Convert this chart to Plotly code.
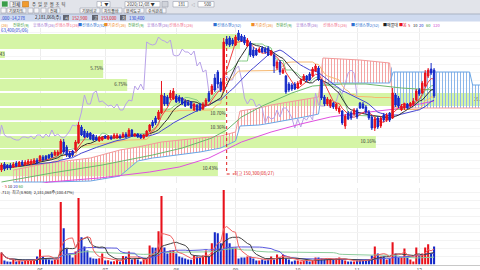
import numpy as np
import pandas as pd
import plotly.graph_objects as go

FONT = "Noto Sans CJK KR"

# ---- daily candles (thousand won) ----
opens = [30,36,35,35,33,37,34,38,35,36,
         36,37,40,39,43,44,45,46,45,45,
         47,58,53,47,49,50,57,73,69,67,
         67,65,63,59,60,64,61,63,62,62,
         64,63,66,64,70,64,66,65,62,64,
         69,78,82,81,87,104,103,102,101,104,
         103,102,99,98,98,90,95,96,91,95,
         107,106,122,128,118,110,161,162,160,155,
         167,164,163,154,157,150,150,148,152,151,
         152,145,145,132,138,127,124,116,115,116,
         112,116,120,124,126,124,129,132,120,103,
         96,94,97,91,88,89,74,87,87,86,
         90,97,96,93,88,83,72,82,74,85,
         80,87,82,105,102,90,92,96,94,96,
         100,110,107,114,124,131,130]
highs = [37,38,36,37,38,39,39,40,40,41,
         41,42,42,45,45,45,46,48,50,50,
         61,61,55,49,50,60,78,75,71,69,
         68,66,65,64,64,65,65,65,67,67,
         66,68,68,72,71,67,67,66,66,70,
         76,80,84,90,119,107,105,110,112,106,
         105,103,101,100,99,97,96,97,98,102,
         109,116,126,130,122,162,164,164,162,165,
         170,166,165,162,159,153,152,153,154,153,
         154,150,147,140,140,132,125,118,117,118,
         119,122,126,125,128,133,136,134,121,105,
         103,101,98,97,94,90,86,89,89,92,
         92,98,98,95,90,85,83,84,84,87,
         87,88,112,107,104,96,97,97,98,102,
         111,112,119,130,132,137,132]
lows = [28,29,30,30,32,33,33,34,34,35,
        35,36,36,38,39,40,41,42,44,44,
        46,46,43,42,43,49,56,64,62,62,
        60,59,59,58,59,61,60,60,61,61,
        61,62,62,63,63,63,62,61,61,63,
        68,72,75,80,86,94,94,100,100,97,
        97,95,93,94,91,89,88,89,90,94,
        98,105,108,112,108,108,154,153,154,154,
        159,158,155,153,143,142,144,147,147,146,
        144,144,127,130,125,126,106,108,109,110,
        111,115,119,118,119,123,128,119,100,94,
        94,92,91,89,86,75,71,80,80,84,
        81,91,91,86,80,70,69,71,72,78,
        78,78,81,93,92,89,90,91,93,94,
        99,104,106,113,122,125,102]
closes = [35,31,32,32,36,34,38,35,38,39,
          39,40,37,44,40,41,42,43,48,48,
          59,48,45,43,45,58,75,65,63,63,
          61,60,60,63,63,62,64,61,65,65,
          62,66,63,70,64,66,63,62,65,69,
          75,74,77,88,105,96,96,107,109,98,
          99,96,94,95,92,96,90,90,96,100,
          99,114,110,116,110,158,156,155,156,163,
          160,159,157,160,145,144,145,151,148,148,
          145,149,134,138,128,130,108,110,111,111,
          117,120,124,120,120,131,134,121,102,96,
          101,100,93,96,92,77,84,81,82,90,
          83,92,92,88,82,72,81,73,82,80,
          85,80,107,95,94,94,96,92,97,99,
          109,106,117,127,130,127,104]
# volume (10k shares)
volumes = [144,48,36,34,60,36,48,36,48,52,
           56,62,96,180,96,72,60,48,60,64,
           744,432,192,132,84,156,792,324,216,168,
           84,72,70,76,132,48,50,36,40,60,
           36,100,96,156,60,72,60,36,60,72,
           228,204,200,396,816,204,132,168,172,132,
           96,84,72,60,56,108,96,84,108,168,
           96,252,384,372,252,888,372,252,204,204,
           72,84,84,96,96,72,48,48,60,48,
           60,96,60,120,84,120,72,60,36,48,
           48,36,48,60,36,48,84,84,72,60,
           60,72,60,72,84,60,48,36,36,36,
           48,48,48,60,60,108,216,132,96,96,
           60,72,264,132,84,84,192,96,60,36,
           204,108,132,204,240,132,216]

month_labels = ["06", "07", "08", "09", "10", "11", "12"]
month_start = [13, 35, 59, 79, 100, 120, 141]

# long moving averages (they need history before the window)
ma60_idx = [0, 17, 34, 51, 61, 71, 76, 81, 88, 98, 105, 115, 123, 135, 146]
ma60_val = [18, 27, 35, 45, 52, 62, 70, 83, 94, 107, 114, 116, 116, 112, 110]
ma120_idx = [0, 16, 33, 50, 60, 70, 81, 91, 101, 111, 121, 133, 146]
ma120_val = [8, 18, 22, 28, 33, 42, 58, 68, 76, 83, 87, 91, 99]

# leading spans (already shifted forward)
cloud_idx = [4, 16, 30, 40, 46, 51, 54, 67, 74, 79, 80.5, 87, 91, 97, 101, 104, 107, 108.5,
             121, 131, 132.2, 148, 158, 159, 162]
span1_val = [30, 37, 42, 50, 53, 56, 58, 62, 64, 68, 89, 92, 95, 98, 100, 102, 103, 142,
             140, 137, 92, 92, 92, 92, 92]
span2_val = [18, 18, 19, 24, 39, 42, 43, 48, 52, 59, 74, 75, 77, 80, 82, 84, 86, 117,
             117, 117, 128, 128, 128, 115, 115]

# price-volume profile (매물대)
band_lo = [151, 142, 122, 109, 94, 80, 66, 52, 40, 24]
band_hi = [166, 149, 140, 121, 107, 92, 78, 64, 51, 38]
band_share = [50, 1.0, 21.5, 26.5, 102, 47, 47, 78.3, 13.1, 45.4]
band_label = ["", "1.43", "5.75%", "6.75%", "21.08%", "10.70%", "10.36%", "10.16%", "4.13%", "10.43%"]

peak_idx = 76
peak_text = "최고 150,300(08/27)"
peak_text_level = 26

n = len(closes)
idx = np.arange(n)
df = pd.DataFrame(dict(o=opens, h=highs, l=lows, c=closes, v=volumes))

RED = "#e8111b"
BLUE = "#1428c8"
XR = [-0.5, 161.5]
YR = [17, 172]

fig = go.Figure()

# profile bands (on the price axes, behind everything)
band_mid = [(a + b) / 2 for a, b in zip(band_lo, band_hi)]
band_w = [b - a for a, b in zip(band_lo, band_hi)]
span_x = XR[1] - XR[0]
band_end = [XR[0] + s / 100 * span_x for s in band_share]
fig.add_trace(go.Bar(x=[e - XR[0] for e in band_end], y=band_mid, width=band_w, base=XR[0],
                     orientation="h", marker=dict(color="#d5f5a6", line=dict(width=0)),
                     xaxis="x", yaxis="y", hoverinfo="skip"))
fig.add_trace(go.Scatter(x=band_end, y=band_mid, text=band_label, mode="text",
                         textposition="middle left",
                         textfont=dict(size=4.5, color="#333", family=FONT),
                         xaxis="x", yaxis="y", hoverinfo="skip"))

# ichimoku cloud
s1 = np.array(span1_val, dtype=float)
s2 = np.array(span2_val, dtype=float)
upper = np.maximum(s1, s2)
fig.add_trace(go.Scatter(x=cloud_idx, y=s2, mode="lines", line=dict(width=0), hoverinfo="skip"))
fig.add_trace(go.Scatter(x=cloud_idx, y=upper, mode="lines", line=dict(width=0), fill="tonexty",
                         fillcolor="rgba(0,0,0,0)",
                         fillpattern=dict(shape="|", fgcolor="#f4a4a4", bgcolor="rgba(0,0,0,0)",
                                          size=3, solidity=0.34), hoverinfo="skip"))
fig.add_trace(go.Scatter(x=cloud_idx, y=s1, mode="lines", line=dict(width=0), hoverinfo="skip"))
fig.add_trace(go.Scatter(x=cloud_idx, y=upper, mode="lines", line=dict(width=0), fill="tonexty",
                         fillcolor="rgba(0,0,0,0)",
                         fillpattern=dict(shape="|", fgcolor="#8db6ea", bgcolor="rgba(0,0,0,0)",
                                          size=3, solidity=0.34), hoverinfo="skip"))
fig.add_trace(go.Scatter(x=cloud_idx, y=s1, mode="lines", line=dict(color="#f29a9a", width=1)))
fig.add_trace(go.Scatter(x=cloud_idx, y=s2, mode="lines", line=dict(color="#6aa6e6", width=1)))

hi, lo, cl = df.h, df.l, df.c
tenkan = (hi.rolling(9, min_periods=1).max() + lo.rolling(9, min_periods=1).min()) / 2
kijun = (hi.rolling(26, min_periods=1).max() + lo.rolling(26, min_periods=1).min()) / 2
lag = 26
fig.add_trace(go.Scatter(x=idx - lag, y=closes, mode="lines", line=dict(color="#b8a2e8", width=1)))
fig.add_trace(go.Scatter(x=idx, y=kijun, mode="lines", line=dict(color="#f6b870", width=1)))
fig.add_trace(go.Scatter(x=idx, y=tenkan, mode="lines", line=dict(color="#86cc86", width=1)))

# moving averages
fig.add_trace(go.Scatter(x=ma120_idx, y=ma120_val, mode="lines", line=dict(color="#e050e0", width=1)))
fig.add_trace(go.Scatter(x=ma60_idx, y=ma60_val, mode="lines", line=dict(color="#6cb86c", width=1)))
ma_cols = {5: "#f04040", 10: "#303030", 20: "#4646d2"}
for p in (20, 10, 5):
    fig.add_trace(go.Scatter(x=idx, y=cl.rolling(p, min_periods=1).mean(), mode="lines",
                             line=dict(color=ma_cols[p], width=1)))

# peak marker
fig.add_trace(go.Scatter(x=[peak_idx, peak_idx, peak_idx + 2.5],
                         y=[highs[peak_idx], peak_text_level, peak_text_level],
                         mode="lines", line=dict(color="#e02020", width=1, dash="dot")))
fig.add_trace(go.Scatter(x=[peak_idx + 2.5], y=[peak_text_level], text=[peak_text], mode="text",
                         textposition="middle right",
                         textfont=dict(size=4.5, color="#e02020", family=FONT)))

# candles on an overlay so they sit above the lines
fig.add_trace(go.Candlestick(x=idx, open=opens, high=highs, low=lows, close=closes,
                             increasing=dict(line=dict(color=RED, width=1), fillcolor=RED),
                             decreasing=dict(line=dict(color=BLUE, width=1), fillcolor=BLUE),
                             whiskerwidth=0, xaxis="x4", yaxis="y4"))

# volume
vcol = [RED if c >= o else BLUE for o, c in zip(opens, closes)]
fig.add_trace(go.Bar(x=idx, y=volumes, marker=dict(color=vcol, line=dict(width=0)),
                     xaxis="x2", yaxis="y2"))
vma_cols = {5: "#f06060", 10: "#404040", 20: "#5a5ae0", 60: "#8ccc9c"}
for p in (60, 20, 10, 5):
    fig.add_trace(go.Scatter(x=idx, y=df.v.rolling(p, min_periods=1).mean(), mode="lines",
                             line=dict(color=vma_cols[p], width=1), xaxis="x2", yaxis="y2"))


def fy(y):
    return 1 - y / 270


shapes = []
ann = []


def rect(x0, y0, x1, y1, fill, line=None, lw=0.6):
    shapes.append(dict(type="rect", xref="paper", yref="paper", x0=x0 / 480, x1=x1 / 480,
                       y0=fy(y1), y1=fy(y0), fillcolor=fill,
                       line=dict(color=line or fill, width=lw if line else 0), layer="above"))


def txt(x, y, s, color="#111", size=4.3, anchor="left"):
    ann.append(dict(xref="paper", yref="paper", x=x / 480, y=fy(y), text=s, showarrow=False,
                    xanchor=anchor, yanchor="middle", borderpad=0,
                    font=dict(family=FONT, size=size, color=color)))


# toolbar
rect(0, 0, 480, 14, "#e2e4ea")
rect(0, 14, 480, 21.5, "#cfdaef")
shapes.append(dict(type="line", xref="paper", yref="paper", x0=0, x1=1, y0=fy(14), y1=fy(14),
                   line=dict(color="#aab3c4", width=1), layer="above"))
rect(1.5, 1, 8, 7, "#3a9d4a", "#ffffff")
rect(10, 1.5, 20, 7, "#f6f6f8", "#9aa0ad")
txt(10.5, 4.3, "전체")
rect(22.5, 1.5, 28.5, 7, "#f19b2e", "#c87818")
txt(31, 4.3, "주  일  분  월  초  틱", "#333")
rect(97, 1.5, 110, 7, "#ffffff", "#9aa0ad")
txt(99, 4.3, "1  ▼", "#333")
rect(125, 1.5, 160, 7, "#ffffff", "#9aa0ad")
txt(126, 4.3, "2020/12/08 ▼", "#333")
rect(162, 1.5, 168, 7, "#d0d3da", "#9aa0ad")
rect(173, 1.5, 188, 7, "#ffffff", "#9aa0ad")
txt(177, 4.3, "181", "#333")
txt(190, 4.3, "◁", "#777")
rect(198, 1.5, 214, 7, "#ffffff", "#9aa0ad")
txt(203, 4.3, "500", "#333")
for x0, x1, s in [(1, 6, ""), (7, 26, "기본차트"), (28, 33, ""), (34, 39, ""), (41, 46, ""),
                  (48, 60, "전체"), (80, 100, "기본비교"), (102, 122, "차트툴바"),
                  (124, 144, "분석도구"), (146, 166, "수식관리")]:
    rect(x0, 8, x1, 13, "#f6f6f8", "#9aa0ad")
    if s:
        txt(x0 + 1, 10.6, s, "#222", 4.0)
txt(0, 17.6, ".000 -14,278", "#1c3ccf")
txt(34, 17.6, "2,181,068(주)", "#111")
for x0, s, val, col in [(63, "시", "152,900", "#e01818"), (92, "고", "153,000", "#e01818"),
                        (120, "저", "130,400", "#1c3ccf")]:
    rect(x0, 15, x0 + 6, 20.3, "#60636e")
    txt(x0 + 0.6, 17.6, s, "#ffffff", 4.0)
    txt(x0 + 8, 17.6, val, col)

# indicator legend row
OR, GR, PU, PK, BL = "#f08c28", "#3a9a3a", "#a070d0", "#f06a8a", "#2f6fd0"
legend = [(0, "(26)", OR), (12, "전환선(9)", GR), (32, "후행스팬(26)", PU), (54, "선행스팬1(26)", PK),
          (77, "■선행스팬2(52)", BL), (103, "■기준선(26)", OR), (127, "전환선(9)", GR),
          (146, "후행스팬(26)", PU), (168, "선행스팬1(26)", PK), (212, "■선행스팬2(52)", BL),
          (250, "■기준선(26)", OR), (275, "전환선(9)", GR), (295, "후행스팬(26)", PU),
          (322, "선행스팬1(26)", PK), (350, "■선행스팬2(52)", BL), (382, "■매물대", "#222"),
          (398, "■봉", RED), (407, "5", RED), (412, "10", "#222"), (418, "20", BLUE),
          (425, "60", "#3a9a3a"), (432, "120", "#d040d0")]
for x, s, c in legend:
    txt(x, 24.6, s, c, 4.0)
txt(0, 30.5, "63,400(05/06)", "#1c3ccf", 4.3)

# volume panel legend
txt(0, 185.5, "<span style='color:#e01818'>ㆍ5</span> <span style='color:#222'>10</span> "
              "<span style='color:#2828c8'>20</span> <span style='color:#3a9a3a'>60</span>", "#222", 4.0)
txt(0, 192, ".713)  최고(8.908)  2,181,068주(100.47%)", "#222", 4.0)

fig.update_layout(
    template="none",
    width=480, height=270, margin=dict(l=0, r=0, t=0, b=0),
    paper_bgcolor="white", plot_bgcolor="white", showlegend=False,
    bargap=0.3,
    shapes=shapes, annotations=ann,
    xaxis=dict(domain=[0, 1], range=XR, anchor="y", showticklabels=False, tickvals=month_start,
               showgrid=True, gridcolor="#ececec", gridwidth=1, zeroline=False, showline=False,
               rangeslider=dict(visible=False), automargin=False, ticks=""),
    yaxis=dict(domain=[fy(183), fy(28)], range=YR, showticklabels=False, showgrid=True,
               gridcolor="#f5f5f5", dtick=8, tick0=0, zeroline=False, showline=False,
               automargin=False, ticks=""),
    xaxis4=dict(overlaying="x", range=XR, anchor="y4", visible=False, automargin=False,
                rangeslider=dict(visible=False)),
    yaxis4=dict(overlaying="y", range=YR, anchor="x4", visible=False, automargin=False),
    xaxis2=dict(domain=[0, 1], range=XR, anchor="y2", tickvals=month_start, ticktext=month_labels,
                tickfont=dict(size=5, color="#555", family=FONT), showgrid=True, gridcolor="#ececec",
                zeroline=False, showline=True, linecolor="#c8c8c8", linewidth=1, ticks="",
                automargin=False),
    yaxis2=dict(domain=[fy(264.5), fy(188)], range=[0, 912], showticklabels=False, showgrid=True,
                gridcolor="#f3f3f3", dtick=96, zeroline=False, showline=False, automargin=False,
                ticks=""),
)

fig.write_html("out.html")
